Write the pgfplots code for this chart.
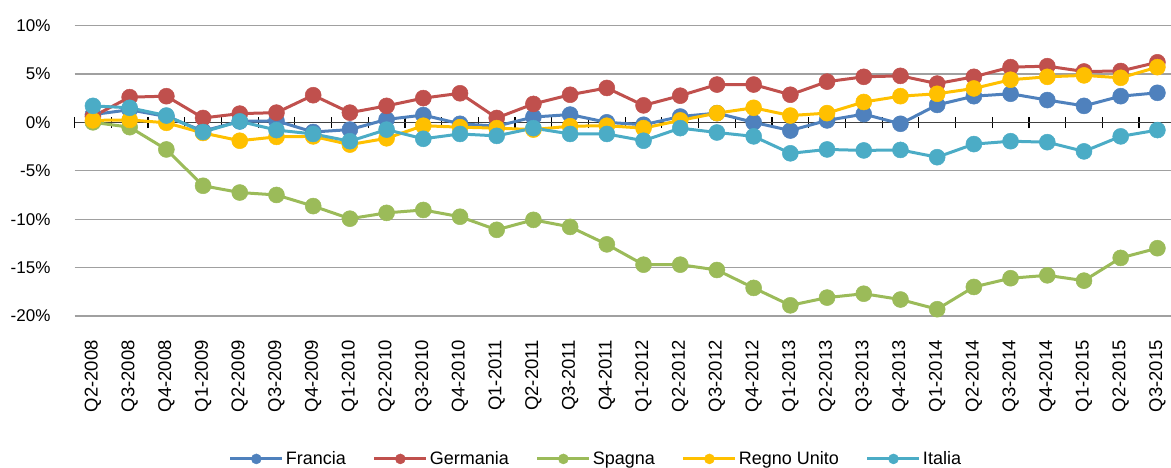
\documentclass[border=0pt]{standalone}
\usepackage{pgfplots}
\pgfplotsset{compat=1.18}
\usepackage{pgfplotstable}
\usepackage{fontspec}
\setmainfont{Liberation Sans}
\definecolor{cF}{HTML}{4F81BD}
\definecolor{cG}{HTML}{C0504D}
\definecolor{cS}{HTML}{9BBB59}
\definecolor{cR}{HTML}{FFC000}
\definecolor{cI}{HTML}{4BACC6}
\definecolor{gridgray}{HTML}{A0A0A0}
\definecolor{axgray}{HTML}{404040}

\pgfplotstableread{
x F G S R I
0 0.8 0.6 0 0.2 1.7
1 1.3 2.6 -0.5 0.25 1.5
2 0.6 2.7 -2.8 -0.05 0.7
3 -0.9 0.45 -6.55 -1.1 -1.0
4 0.1 0.9 -7.25 -1.9 0.1
5 0.15 1.0 -7.5 -1.5 -0.8
6 -1.0 2.8 -8.65 -1.45 -1.2
7 -0.75 1.0 -9.95 -2.3 -1.95
8 0.3 1.7 -9.35 -1.65 -0.75
9 0.75 2.5 -9.05 -0.35 -1.7
10 -0.15 3.0 -9.75 -0.5 -1.2
11 -0.4 0.45 -11.1 -0.6 -1.4
12 0.55 1.9 -10.07 -0.75 -0.6
13 0.8 2.85 -10.8 -0.4 -1.2
14 0.0 3.55 -12.6 -0.35 -1.2
15 -0.25 1.75 -14.7 -0.6 -1.9
16 0.6 2.75 -14.7 0.2 -0.6
17 0.95 3.9 -15.25 0.95 -1.05
18 0.0 3.9 -17.1 1.5 -1.45
19 -0.85 2.85 -18.9 0.7 -3.2
20 0.2 4.2 -18.1 0.95 -2.8
21 0.85 4.7 -17.7 2.1 -2.9
22 -0.15 4.8 -18.3 2.7 -2.85
23 1.8 4.0 -19.3 2.95 -3.6
24 2.7 4.7 -17.0 3.5 -2.25
25 2.95 5.7 -16.1 4.4 -1.95
26 2.3 5.8 -15.8 4.7 -2.05
27 1.7 5.25 -16.35 4.85 -3.0
28 2.7 5.3 -14.0 4.6 -1.45
29 3.05 6.2 -13.0 5.7 -0.8
}\datatable

\pgfplotsset{
  base/.style={at={(74.6pt,152pt)}, anchor=south west, scale only axis,
    width=1096.4pt, height=290.5pt, xmin=-0.5, xmax=29.37, ymin=-20, ymax=10},
  ser/.style={color=#1, line width=3pt, mark=*, mark size=8pt,
    mark options={solid, line width=0.5pt, fill=#1, draw=#1}},
}

\begin{document}
\begin{tikzpicture}
\useasboundingbox (0,0) rectangle (1171pt,468pt);
% layer A: grid and tick labels
\begin{axis}[base,
  axis line style={draw=none},
  tick style={draw=none}, major tick length=0pt,
  ymajorgrids, grid style={line width=1.2pt, color=gridgray},
  ytick={-20,-15,-10,-5,0,5,10},
  yticklabels={-20\%,-15\%,-10\%,-5\%,0\%,5\%,10\%},
  yticklabel style={font=\fontsize{17}{17}\selectfont, inner sep=0pt},
  yticklabel shift=24pt,
  xtick={0,...,29},
  xticklabels={Q2-2008,Q3-2008,Q4-2008,Q1-2009,Q2-2009,Q3-2009,Q4-2009,Q1-2010,Q2-2010,Q3-2010,Q4-2010,Q1-2011,Q2-2011,Q3-2011,Q4-2011,Q1-2012,Q2-2012,Q3-2012,Q4-2012,Q1-2013,Q2-2013,Q3-2013,Q4-2013,Q1-2014,Q2-2014,Q3-2014,Q4-2014,Q1-2015,Q2-2015,Q3-2015},
  xticklabel style={rotate=90, anchor=east, inner sep=0pt, font=\fontsize{18.5}{18.5}\selectfont},
  xticklabel shift=24pt,
]
\end{axis}
% layer B: zero axis line with boundary ticks
\begin{axis}[base,
  axis x line*=middle, axis y line=none,
  xtick={-0.5,0.5,...,28.5}, xticklabels={},
  ytick=\empty,
  major tick length=11.5pt, tick align=center,
  x axis line style={-, line width=1.3pt, color=axgray},
  tick style={line width=1.2pt, black},
]
\end{axis}
% layer C: data and legend
\begin{axis}[base, hide axis,
  legend columns=5,
  legend style={at={(0.4755,-0.492)}, anchor=center, draw=none, fill=none,
    font=\fontsize{18}{20}\selectfont,
    /tikz/every even column/.append style={column sep=25pt}},
  legend cell align=left,
  legend image code/.code={\draw[mark repeat=2,mark phase=2,mark size=5pt] plot coordinates {(0pt,0pt) (26pt,0pt) (52pt,0pt)};},
]
\addplot[ser=cF] table[x=x,y=F] {\datatable};
\addlegendentry{Francia}
\addplot[ser=cG] table[x=x,y=G] {\datatable};
\addlegendentry{Germania}
\addplot[ser=cS] table[x=x,y=S] {\datatable};
\addlegendentry{Spagna}
\addplot[ser=cR] table[x=x,y=R] {\datatable};
\addlegendentry{Regno Unito}
\addplot[ser=cI] table[x=x,y=I] {\datatable};
\addlegendentry{Italia}
\end{axis}
\end{tikzpicture}
\end{document}
